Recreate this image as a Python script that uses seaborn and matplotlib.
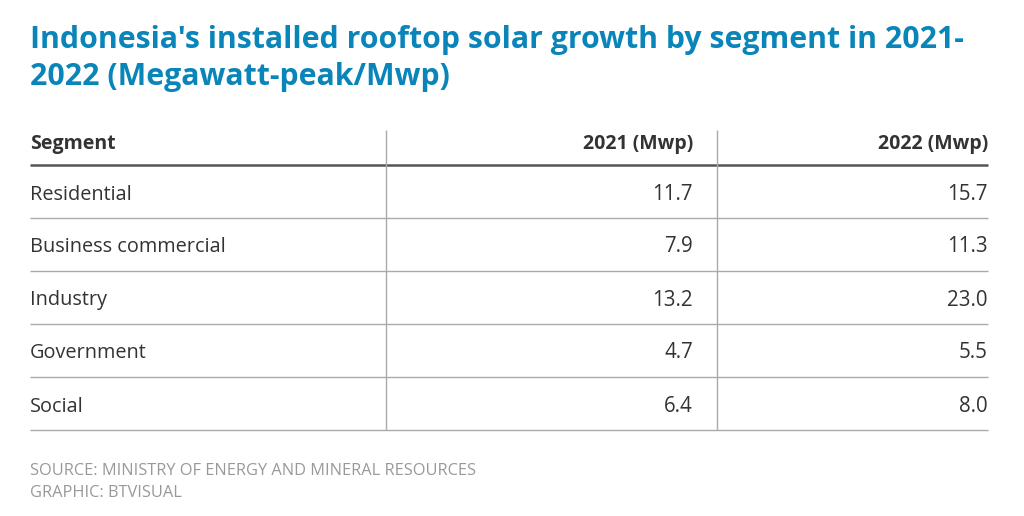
"""Tabla de crecimiento de energia solar en techos en Indonesia."""

import matplotlib.pyplot as plt
import seaborn as sns


segments = ["Residential", "Business commercial", "Industry", "Government", "Social"]
values_2021 = [11.7, 7.9, 13.2, 4.7, 6.4]
values_2022 = [15.7, 11.3, 23.0, 5.5, 8.0]
headers = ["Segment", "2021 (Mwp)", "2022 (Mwp)"]

title_lines = ["Indonesia's installed rooftop solar growth by segment in 2021-",
               "2022 (Megawatt-peak/Mwp)"]
source_lines = ["SOURCE: MINISTRY OF ENERGY AND MINERAL RESOURCES",
                "GRAPHIC: BTVISUAL"]

sns.set_theme(style="white")
plt.rcParams["font.family"] = ["Open Sans", "DejaVu Sans"]

fig = plt.figure(figsize=(10.24, 5.16), dpi=100)
ax = fig.add_axes([0, 0, 1, 1])
ax.set_xlim(0, 1024)
ax.set_ylim(516, 0)
ax.axis("off")

left, right = 30, 988
col_split = [386, 717]
col_right = [693, 988]
header_base = 149
table_top = 165
row_h = 53
text_color = "#333333"

# titulo
for k, line in enumerate(title_lines):
    ax.text(left, 48 + 37 * k, line, fontsize=21.8, fontweight="bold",
            color="#0a85b9", va="baseline", ha="left")

# encabezados
ax.text(left, header_base, headers[0], fontsize=14, fontweight="bold",
        color=text_color, va="baseline", ha="left")
for label, xr in zip(headers[1:], col_right):
    ax.text(xr, header_base, label, fontsize=14, fontweight="bold",
            color=text_color, va="baseline", ha="right")
ax.hlines(table_top, left, right, color="#555555", linewidth=1.8)

# filas
for i, (seg, v1, v2) in enumerate(zip(segments, values_2021, values_2022)):
    yb = table_top + row_h * (i + 0.5) + 8
    ax.text(left, yb, seg, fontsize=14.3, color=text_color, va="baseline", ha="left")
    ax.text(col_right[0], yb, f"{v1:.1f}", fontsize=14.8, color=text_color,
            va="baseline", ha="right")
    ax.text(col_right[1], yb, f"{v2:.1f}", fontsize=14.8, color=text_color,
            va="baseline", ha="right")
    ax.hlines(table_top + row_h * (i + 1), left, right, color="#aaaaaa", linewidth=1)

bottom = table_top + row_h * len(segments)
ax.vlines(col_split, 130, bottom, color="#aaaaaa", linewidth=1)

# fuente
for k, line in enumerate(source_lines):
    ax.text(left, 475 + 22 * k, line, fontsize=11.8, color="#999999",
            va="baseline", ha="left")

fig.savefig("out.png", dpi=100)
plt.close(fig)
